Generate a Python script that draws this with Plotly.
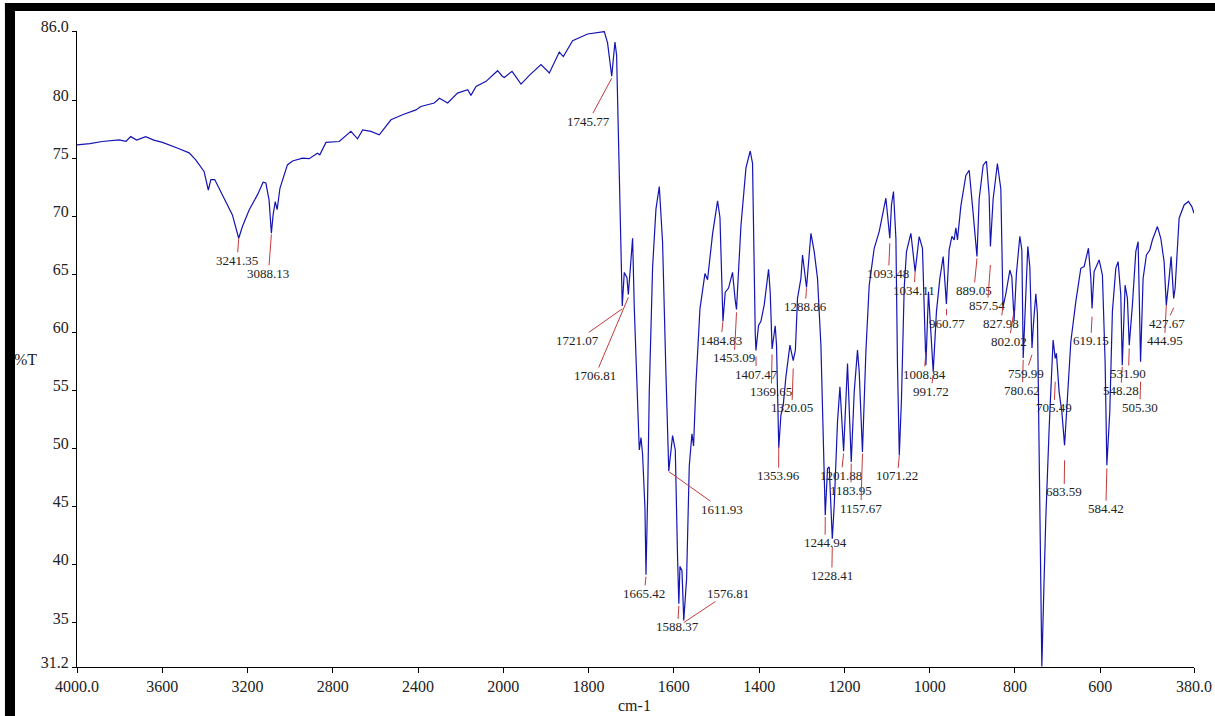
import numpy as np
import plotly.graph_objects as go

# ---------------- data ----------------
wavenumber = [
    4000, 3940, 3881, 3803, 3770, 3748, 3720, 3678, 3640, 3599, 3521, 3474, 3443, 3404,
    3384, 3372, 3354, 3318, 3271, 3241.35, 3224, 3192, 3153, 3127, 3114, 3099, 3088.13,
    3080, 3070, 3061, 3048, 3013, 2989, 2942, 2911, 2872, 2861, 2832, 2770, 2715, 2684,
    2660, 2621, 2582, 2527, 2473, 2410, 2387, 2324, 2300, 2261, 2215, 2167, 2152, 2128,
    2081, 2027, 2005,
    1997.7, 1979.6, 1958.5, 1939, 1911.6, 1892.1, 1868.7, 1859.3, 1837.5, 1802.3, 1774.9,
    1763.2, 1755.5, 1745.77, 1742.1, 1738.1, 1734.3, 1729.7, 1725.7, 1721.07, 1716.3,
    1710, 1706.81, 1700.6, 1696.8, 1692.8, 1685.1, 1681.1, 1677.1, 1673.4, 1667.8,
    1665.42, 1661.7, 1657.7, 1649.9, 1642, 1634.2, 1626.5, 1618.5, 1611.93, 1603,
    1596.7, 1591.3, 1588.37, 1585.7, 1581, 1576.81, 1570.2, 1563.9, 1557.6, 1553.8,
    1548.2, 1538.8, 1527.1, 1521, 1509.3, 1497.5, 1491.9, 1484.83, 1479.5, 1471.7,
    1462.4, 1456, 1453.09, 1442.7, 1430.9, 1420.9, 1415.5, 1409.1, 1407.47, 1401.4,
    1395.8, 1388, 1377.9, 1374, 1369.65, 1362.3, 1359.2, 1353.96, 1348.9, 1343.5,
    1337.2, 1327.8, 1323, 1320.05, 1315, 1310, 1302, 1298.2, 1288.86, 1284, 1278.5,
    1270.8, 1263.1, 1255.1, 1249.7, 1244.94, 1239.6, 1235.6, 1228.41, 1223.9, 1216.2,
    1210.5, 1201.88, 1196, 1192.7, 1183.95, 1177, 1169.3, 1165.3, 1157.67, 1149.6,
    1141.8, 1130.1, 1118.4, 1102.7, 1093.48, 1089.6, 1084.9, 1079.2, 1075.5, 1071.22,
    1066.1, 1059.8, 1054.4, 1044.1, 1034.11, 1024.6, 1016.9, 1010.5, 1008.84, 1002.8,
    997.2, 991.72, 984.1, 976.1, 968.3, 960.77, 954.3, 947.9, 942.5, 938.6, 934.8,
    926.8, 915.1, 907.3, 899.6, 889.05, 883.9, 874.5, 866.8, 860.5, 857.54, 851.1,
    841.1, 833.1, 827.98, 821.3, 811.9, 807.3, 802.02, 796.5, 788.5, 783.8, 780.62,
    774.4, 769.8, 765.1, 759.99, 756.6, 751, 747.3, 743.3, 739.3, 736.9, 731.5, 727.6,
    719.8, 713.5, 710.5, 705.49, 702.7, 696.4, 690, 683.59, 679.2, 668.9, 657.2, 645.5,
    637.7, 627.6, 622, 619.15, 614.3, 602.5, 594.8, 588.5, 584.42, 577.5, 571.4, 563.4,
    558, 551.7, 548.28, 541.6, 536.2, 531.9, 524.5, 516.5, 511.1, 505.3, 499.4, 491.6,
    483.7, 477.6, 465.8, 457.9, 450.1, 444.95, 438.4, 433.7, 427.67, 424.3, 414.9,
    403.2, 393.1, 385.1, 380,
]
transmittance = [
    76.19, 76.3, 76.48, 76.62, 76.5, 76.9, 76.6, 76.9, 76.6, 76.4, 75.85, 75.5, 74.9, 73.9,
    72.3, 73.2, 73.2, 71.9, 70.15, 68.14, 69.15, 70.6, 71.9, 72.97, 72.9, 71.45, 68.57,
    70.15, 71.3, 70.6, 72.45, 74.46, 74.8, 75.04, 75.0, 75.47, 75.33, 76.4, 76.48, 77.35, 76.71,
    77.48, 77.35, 77.05, 78.35, 78.78, 79.2, 79.5, 79.8, 80.2, 79.8, 80.65, 80.94, 80.45, 81.23,
    81.66, 82.58, 82.1,
    82.0, 82.52, 81.43, 82.18, 83.1, 82.38, 84.19, 83.8, 85.16, 85.74, 85.87,
    85.95, 84.97, 82.1, 83.54, 85.05, 83.9, 75.3, 68.86, 62.3, 65.2,
    64.75, 63.3, 66.9, 68.14, 62.06, 52.76, 49.9, 50.97, 49.53, 44.88,
    39.15, 45.6, 54.9, 65.64, 70.65, 72.6, 67.8, 56.34, 48.1, 51.14,
    49.9, 40.58, 36.65, 39.87, 39.5, 35.2, 38.79, 48.5, 51.3, 50.24,
    55.6, 62.06, 65.1, 64.57, 68.5, 71.37, 69.93, 61.0, 63.49, 63.85,
    65.2, 62.77, 62.0, 69.2, 74.2, 75.66, 74.6, 59.9, 58.48, 60.63,
    60.99, 62.42, 65.47, 63.49, 58.6, 60.6, 58.93, 50.1, 52.9, 53.76,
    56.2, 58.93, 58.2, 57.6, 58.5, 62.96, 64.69, 66.7, 63.9, 65.84, 68.57,
    66.99, 64.69, 58.93, 50.88, 44.27, 48.3, 48.44, 42.25, 45.13, 52.32,
    55.34, 49.8, 54.9, 57.35, 48.87, 54.9, 58.5, 56.64, 49.73, 58.36,
    64.11, 67.28, 68.72, 71.59, 68.14, 71.01, 72.17, 68.14, 57.21, 49.44,
    54.33, 63.83, 66.99, 68.57, 65.27, 68.29, 67.28, 59.51, 57.21, 63.54,
    60.37, 56.64, 61.82, 64.69, 66.56, 62.49, 67.15, 68.31, 68.0, 69.05, 68.0,
    70.93, 73.56, 74.0, 70.93, 66.57, 71.52, 74.44, 74.78, 71.82, 67.44, 71.52,
    74.58, 72.39, 62.2, 63.36, 65.4, 64.82, 61.03, 65.11, 68.31, 67.15, 57.82,
    63.65, 67.44, 65.69, 58.69, 60.74, 63.36, 61.61, 49.07, 37.42, 31.25, 38.87, 44.0,
    51.7, 58.07, 59.37, 57.79, 58.22, 54.91, 53.19, 50.3, 53.19, 59.23, 62.68, 65.55,
    65.7, 67.28, 64.69, 62.1, 65.27, 66.27, 64.97, 57.5, 48.58, 53.19, 61.82, 65.55,
    66.13, 63.25, 57.21, 64.1, 62.96, 58.93, 62.38, 66.99, 67.85, 57.5, 64.69, 66.7,
    67.13, 67.99, 69.15, 68.14, 66.13, 62.38, 64.69, 66.56, 62.96, 63.83, 69.87,
    71.01, 71.31, 70.87, 70.3,
]

peak_labels = [
    "3241.35", "3088.13", "1745.77", "1721.07", "1706.81", "1665.42", "1611.93",
    "1588.37", "1576.81", "1484.83", "1453.09", "1407.47", "1369.65", "1353.96",
    "1320.05", "1288.86", "1244.94", "1228.41", "1201.88", "1183.95", "1157.67",
    "1093.48", "1071.22", "1034.11", "1008.84", "991.72", "960.77", "889.05",
    "857.54", "827.98", "802.02", "780.62", "759.99", "705.49", "683.59", "619.15",
    "584.42", "548.28", "531.90", "505.30", "444.95", "427.67",
]
peak_line_t = [
    68.14, 68.48, 81.93, 62.06, 63.05, 38.98, 48.04, 36.47, 35.03, 60.98, 61.76,
    57.96, 58.13, 50.17, 56.92, 63.83, 44.13, 41.54, 49.59, 48.73, 49.59, 67.71,
    49.44, 65.27, 58.36, 56.35, 62.05, 66.41, 65.84, 62.34, 61.9, 57.67, 58.11,
    55.78, 49.01, 61.38, 48.3, 57.07, 58.65, 55.78, 62.38, 62.16,
]
label_text_w = [
    3248.8, 3101.9, 1800, 1826.5, 1784.3, 1669.4, 1488, 1591.3, 1474.1, 1489.6,
    1458.4, 1406.8, 1371.6, 1354.4, 1323.1, 1291.9, 1245.3, 1229.6, 1207.5, 1184.7,
    1161.3, 1096.6, 1075.5, 1036.4, 1012.9, 997.2, 959.9, 896.3, 864.5, 833.1,
    813.6, 782.4, 774.4, 708.1, 684.6, 622, 586.8, 551.7, 533.8, 506.8, 449.1, 444.4,
]
label_text_t = [
    66.24, 65.12, 78.23, 59.34, 56.32, 37.54, 44.8, 34.66, 37.54, 59.37, 57.84,
    56.44, 54.94, 47.69, 53.53, 62.25, 41.91, 39.09, 47.72, 46.42, 44.9, 65.12,
    47.67, 63.68, 56.41, 54.96, 60.81, 63.65, 62.34, 60.8, 59.28, 55.05, 56.51,
    53.53, 46.28, 59.31, 44.84, 55.0, 56.49, 53.58, 59.31, 60.8,
]

x_tick_values = [4000, 3600, 3200, 2800, 2400, 2000, 1800, 1600, 1400, 1200, 1000, 800, 600, 380]
x_tick_text = ["4000.0", "3600", "3200", "2800", "2400", "2000", "1800", "1600",
               "1400", "1200", "1000", "800", "600", "380.0"]
y_tick_values = [31.2, 35, 40, 45, 50, 55, 60, 65, 70, 75, 80, 86.0]
y_tick_text = ["31.2", "35", "40", "45", "50", "55", "60", "65", "70", "75", "80", "86.0"]


def to_axis(w):
    """Instrument axis: 4000-2000 cm-1 compressed 2x relative to 2000-380 cm-1."""
    w = np.asarray(w, dtype=float)
    return np.where(w >= 2000, (4000.0 - w) / 400.0, 5.0 + (2000.0 - w) / 200.0)


SERIF = "Liberation Serif, Times New Roman, serif"
LINE_BLUE = "#1414b4"
LABEL_RED = "#c43a3a"

fig = go.Figure()
fig.add_trace(go.Scatter(
    x=to_axis(wavenumber), y=transmittance, mode="lines",
    line=dict(color=LINE_BLUE, width=1.2), hoverinfo="skip", showlegend=False,
))

annotations = []
for lab, lt, tw, tt in zip(peak_labels, peak_line_t, label_text_w, label_text_t):
    annotations.append(dict(
        x=float(to_axis(float(lab))), y=lt, xref="x", yref="y",
        ax=float(to_axis(tw)), ay=tt, axref="x", ayref="y",
        text=lab, showarrow=True, arrowhead=0, arrowwidth=1,
        arrowcolor=LABEL_RED, standoff=0, startstandoff=0,
        font=dict(family=SERIF, size=13, color="#222222"),
        borderpad=0,
    ))

# axis titles
annotations.append(dict(text="cm-1", x=0.4987, y=-0.061, xref="paper", yref="paper",
                        showarrow=False, xanchor="center", yanchor="middle",
                        font=dict(family=SERIF, size=16, color="#222222")))
annotations.append(dict(text="%T", x=-0.0457, y=0.483, xref="paper", yref="paper",
                        showarrow=False, xanchor="center", yanchor="middle",
                        font=dict(family=SERIF, size=16, color="#222222")))

shapes = [
    # thick black frame fragments (left and top) of the original window
    dict(type="rect", xref="paper", yref="paper", x0=-0.0645, x1=-0.0555,
         y0=-0.08, y1=1.044, fillcolor="black", line=dict(width=0), layer="above"),
    dict(type="rect", xref="paper", yref="paper", x0=-0.0645, x1=1.02,
         y0=1.0314, y1=1.044, fillcolor="black", line=dict(width=0), layer="above"),
]

fig.update_layout(
    width=1215, height=716, autosize=False,
    margin=dict(l=77, r=21, t=31, b=49, autoexpand=False),
    paper_bgcolor="white", plot_bgcolor="white",
    showlegend=False,
    annotations=annotations,
    shapes=shapes,
    xaxis=dict(
        range=[0, float(to_axis(380))], tickmode="array",
        tickvals=to_axis(x_tick_values).tolist(), ticktext=x_tick_text,
        showgrid=False, zeroline=False, showline=True, linecolor="black", linewidth=1,
        ticks="outside", ticklen=5, tickcolor="black", tickwidth=1,
        tickfont=dict(family=SERIF, size=16, color="#222222"),
    ),
    yaxis=dict(
        range=[31.2, 86.0], tickmode="array",
        tickvals=y_tick_values, ticktext=y_tick_text,
        showgrid=False, zeroline=False, showline=True, linecolor="black", linewidth=1,
        ticks="outside", ticklen=4, tickcolor="black", tickwidth=1,
        ticklabelshift=-5,
        tickfont=dict(family=SERIF, size=16, color="#222222"),
    ),
)

fig.write_html(
    "out.html",
    config={"displayModeBar": False},
    post_script="document.body.style.margin='0';document.body.style.overflow='hidden';",
)
